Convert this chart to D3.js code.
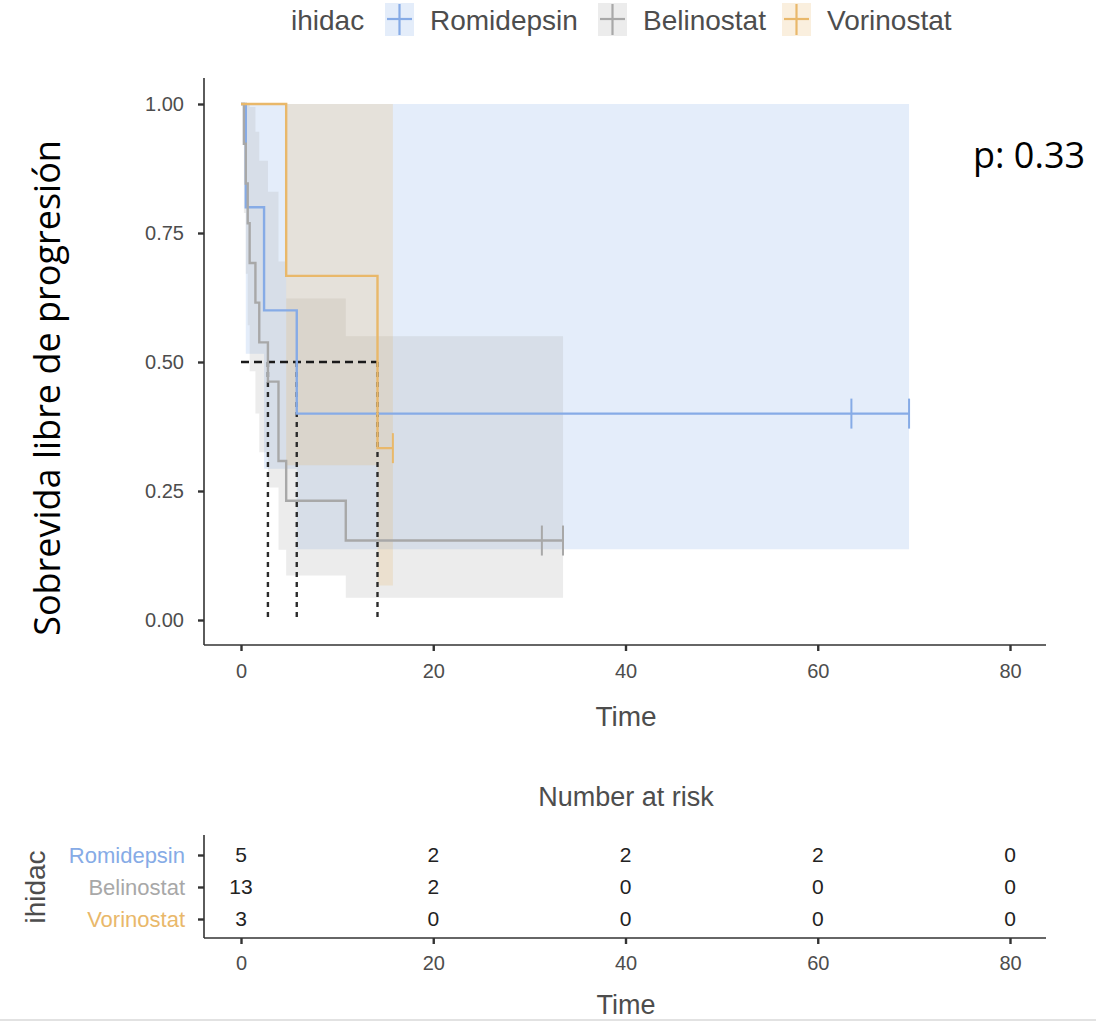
<!DOCTYPE html>
<html><head><meta charset="utf-8">
<script src="https://cdn.jsdelivr.net/npm/d3@7"></script>
<style>body{margin:0;background:#fff}svg{display:block}</style>
</head><body>
<script>
// ---- data ----
const groups = ["Romidepsin", "Belinostat", "Vorinostat"];
const colors = ["#86abe6", "#a8a8a8", "#e9b86a"];

const romTime  = [0, 0.5, 2.4, 5.8];
const romSurv  = [1, 0.8, 0.6, 0.4];
const romLower = [1, 0.516, 0.293, 0.137];
const romUpper = [1, 1, 1, 1];
const romEnd = 69.5;
const romCensor = [63.5, 69.5];

const belTime  = [0, 0.3, 0.5, 0.7, 0.9, 1.5, 1.9, 2.8, 3.9, 4.7, 10.9];
const belSurv  = [1, 0.923, 0.846, 0.769, 0.692, 0.615, 0.538, 0.462, 0.308, 0.231, 0.154];
const belLower = [1, 0.789, 0.671, 0.571, 0.482, 0.400, 0.325, 0.257, 0.136, 0.086, 0.043];
const belUpper = [1, 1, 1, 1, 0.994, 0.946, 0.890, 0.830, 0.695, 0.623, 0.550];
const belEnd = 33.5;
const belCensor = [31.3, 33.5];

const vorTime  = [0, 4.7, 14.2];
const vorSurv  = [1, 0.667, 0.333];
const vorLower = [1, 0.300, 0.067];
const vorUpper = [1, 1, 1];
const vorEnd = 15.8;
const vorCensor = [15.8];

const medians = [5.8, 2.8, 14.2];
const xTicks = [0, 20, 40, 60, 80];
const yTicks = [0, 0.25, 0.5, 0.75, 1];
const yTickLabels = ["0.00", "0.25", "0.50", "0.75", "1.00"];
const riskTimes = [0, 20, 40, 60, 80];
const riskRom = [5, 2, 2, 2, 0];
const riskBel = [13, 2, 0, 0, 0];
const riskVor = [3, 0, 0, 0, 0];
const pText = "p: 0.33";

// ---- build ----
function mk(time, surv, lo, up, end) {
  const pts = time.map((t, i) => ({t, s: surv[i], lo: lo[i], up: up[i]}));
  const last = pts[pts.length - 1];
  pts.push({t: end, s: last.s, lo: last.lo, up: last.up});
  return pts;
}
const series = [
  {pts: mk(romTime, romSurv, romLower, romUpper, romEnd), cens: romCensor},
  {pts: mk(belTime, belSurv, belLower, belUpper, belEnd), cens: belCensor},
  {pts: mk(vorTime, vorSurv, vorLower, vorUpper, vorEnd), cens: vorCensor}
];
const risks = [riskRom, riskBel, riskVor];

const W = 1096, H = 1022;
const svg = d3.select("body").append("svg").attr("width", W).attr("height", H);
const sans = "'Liberation Sans', Arial, sans-serif";
const txtGray = "#4d4d4d";

svg.append("line").attr("x1", 0).attr("x2", W).attr("y1", 1020).attr("y2", 1020)
  .attr("stroke", "#e2e2e2").attr("stroke-width", 2);

const x = d3.scaleLinear().domain([0, 80]).range([241, 1010]);
const y = d3.scaleLinear().domain([0, 1]).range([620, 104]);
const survAt = (s, t) => { let v = 1; s.pts.forEach(p => { if (p.t <= t) v = p.s; }); return v; };

// ribbons
const area = d3.area().curve(d3.curveStepAfter).x(d => x(d.t)).y0(d => y(d.lo)).y1(d => y(d.up));
series.forEach((s, i) => {
  svg.append("path").attr("d", area(s.pts)).attr("fill", colors[i]).attr("fill-opacity", 0.22);
});

// median dashed lines
const maxMed = d3.max(medians);
svg.append("line").attr("x1", x(0)).attr("x2", x(maxMed)).attr("y1", y(0.5)).attr("y2", y(0.5))
  .attr("stroke", "#1a1a1a").attr("stroke-width", 2.6).attr("stroke-dasharray", "8,5");
medians.forEach(m => {
  svg.append("line").attr("x1", x(m)).attr("x2", x(m)).attr("y1", y(0.5)).attr("y2", y(0))
    .attr("stroke", "#2a2a2a").attr("stroke-width", 2.4).attr("stroke-dasharray", "5,5");
});

// curves
const line = d3.line().curve(d3.curveStepAfter).x(d => x(d.t)).y(d => y(d.s));
series.forEach((s, i) => {
  svg.append("path").attr("d", line(s.pts)).attr("fill", "none")
    .attr("stroke", colors[i]).attr("stroke-width", 2.4);
  s.cens.forEach(c => {
    const v = survAt(s, c);
    svg.append("line").attr("x1", x(c)).attr("x2", x(c)).attr("y1", y(v) - 15).attr("y2", y(v) + 15)
      .attr("stroke", colors[i]).attr("stroke-width", 2);
  });
});

// axes main
const axCol = "#333";
const gx = svg.append("g").attr("transform", "translate(0,645)")
  .call(d3.axisBottom(x).tickValues(xTicks).tickSize(6).tickPadding(13));
gx.select(".domain").attr("d", "M204,0H1046");
const gy = svg.append("g").attr("transform", "translate(204,0)")
  .call(d3.axisLeft(y).tickValues(yTicks).tickFormat((d, i) => yTickLabels[i]).tickSize(6).tickPadding(14));
gy.select(".domain").attr("d", "M0,78V645");
[gx, gy].forEach(g => {
  g.select(".domain").attr("stroke", axCol).attr("stroke-width", 1.6);
  g.selectAll(".tick line").attr("stroke", axCol).attr("stroke-width", 2.4);
  g.selectAll(".tick text").attr("font-family", sans).attr("font-size", 20).attr("fill", txtGray);
});

svg.append("text").attr("x", 626).attr("y", 726).attr("text-anchor", "middle")
  .attr("font-family", sans).attr("font-size", 28).attr("fill", txtGray).text("Time");
svg.append("text").attr("transform", "translate(60,388) rotate(-90)").attr("text-anchor", "middle")
  .attr("font-family", "'Open Sans', sans-serif").attr("font-size", 36).attr("fill", "#000")
  .text("Sobrevida libre de progresión");
svg.append("text").attr("x", 973).attr("y", 168).attr("font-family", "'Open Sans', sans-serif")
  .attr("font-size", 36).attr("fill", "#000").text(pText);

// legend
svg.append("text").attr("x", 291).attr("y", 30).attr("font-family", sans).attr("font-size", 28)
  .attr("fill", txtGray).text("ihidac");
const keyX = [385, 598, 782];
groups.forEach((g, i) => {
  const kx = keyX[i];
  svg.append("rect").attr("x", kx).attr("y", 3).attr("width", 29).attr("height", 33)
    .attr("fill", colors[i]).attr("fill-opacity", 0.22);
  svg.append("line").attr("x1", kx + 14.5).attr("x2", kx + 14.5).attr("y1", 4).attr("y2", 35)
    .attr("stroke", colors[i]).attr("stroke-width", 2.2);
  svg.append("line").attr("x1", kx + 2).attr("x2", kx + 27).attr("y1", 19).attr("y2", 19)
    .attr("stroke", colors[i]).attr("stroke-width", 2.2);
  svg.append("text").attr("x", kx + 45).attr("y", 30).attr("font-family", sans).attr("font-size", 28)
    .attr("fill", txtGray).text(g);
});

// risk table
svg.append("text").attr("x", 626).attr("y", 806).attr("text-anchor", "middle")
  .attr("font-family", sans).attr("font-size", 27).attr("fill", txtGray).text("Number at risk");
const ry = d3.scalePoint().domain(groups).range([855, 919]);
const gtx = svg.append("g").attr("transform", "translate(0,938)")
  .call(d3.axisBottom(x).tickValues(xTicks).tickSize(6).tickPadding(12));
gtx.select(".domain").attr("d", "M204,0H1046");
const gty = svg.append("g").attr("transform", "translate(204,0)")
  .call(d3.axisLeft(ry).tickSize(6).tickPadding(13));
gty.select(".domain").attr("d", "M0,835V938");
[gtx, gty].forEach(g => {
  g.select(".domain").attr("stroke", axCol).attr("stroke-width", 1.6);
  g.selectAll(".tick line").attr("stroke", axCol).attr("stroke-width", 2.4);
  g.selectAll(".tick text").attr("font-family", sans).attr("font-size", 20).attr("fill", txtGray);
});
gty.selectAll(".tick text").attr("font-size", 22).attr("fill", (d, i) => colors[i]);
groups.forEach((g, i) => {
  risks[i].forEach((v, j) => {
    svg.append("text").attr("x", x(riskTimes[j])).attr("y", ry(g)).attr("dy", "0.35em")
      .attr("text-anchor", "middle").attr("font-family", sans).attr("font-size", 21)
      .attr("fill", "#222").text(v);
  });
});
svg.append("text").attr("x", 626).attr("y", 1014).attr("text-anchor", "middle")
  .attr("font-family", sans).attr("font-size", 27).attr("fill", txtGray).text("Time");
svg.append("text").attr("transform", "translate(45,887) rotate(-90)").attr("text-anchor", "middle")
  .attr("font-family", sans).attr("font-size", 28).attr("fill", txtGray).text("ihidac");
</script>
</body></html>
